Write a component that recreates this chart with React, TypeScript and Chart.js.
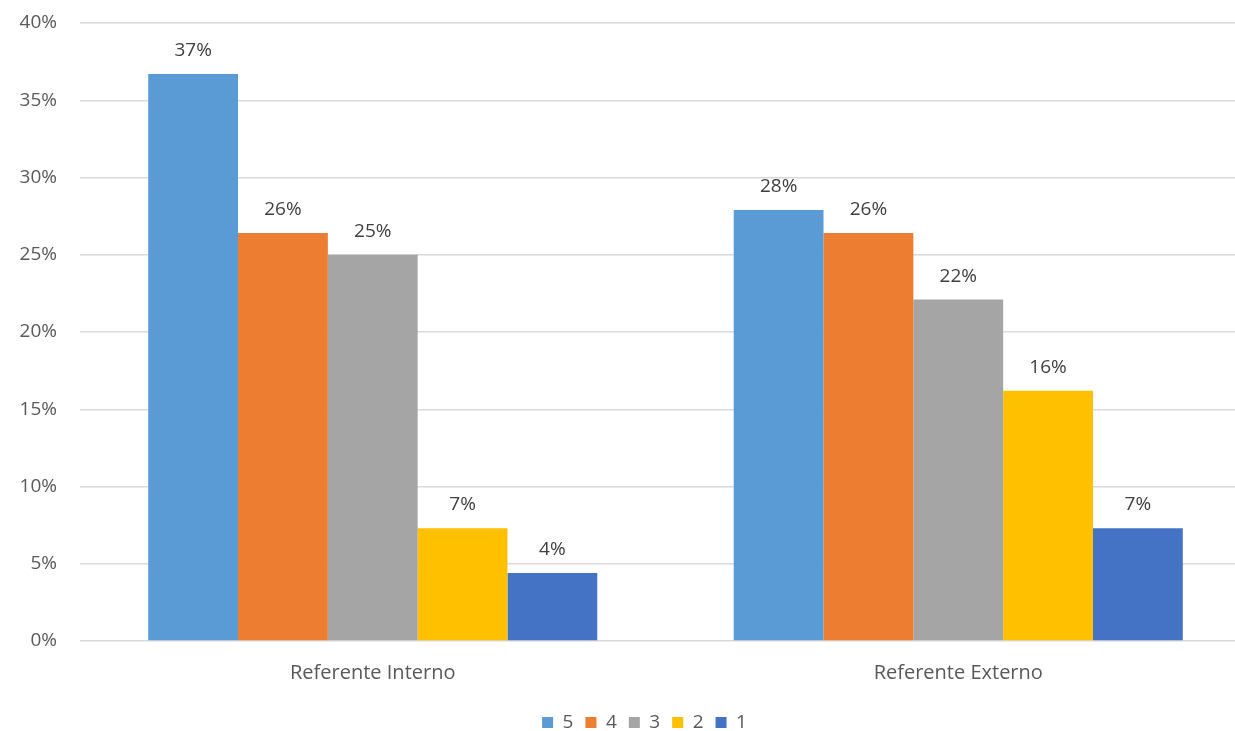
import React, { useEffect, useRef } from "react";
import { Chart, registerables } from "chart.js";

Chart.register(...registerables);

const categories = ["Referente Interno", "Referente Externo"];
const ratingLabels = ["5", "4", "3", "2", "1"];
const rating5 = [36.7, 27.9];
const rating4 = [26.4, 26.4];
const rating3 = [25.0, 22.1];
const rating2 = [7.3, 16.2];
const rating1 = [4.4, 7.3];
const ratingColors = ["#5B9BD5", "#ED7D31", "#A5A5A5", "#FFC000", "#4472C4"];
const yTicks = [0, 5, 10, 15, 20, 25, 30, 35, 40];

const FONT = "'Open Sans', 'Noto Sans', sans-serif";
const TEXT = "#595959";
const SIZE = 19;

// Writes the rounded percentage above each bar
const valueLabels = {
  id: "valueLabels",
  afterDatasetsDraw(chart: any) {
    const ctx = chart.ctx;
    ctx.save();
    ctx.font = `${SIZE}px ${FONT}`;
    ctx.fillStyle = "#404040";
    ctx.textAlign = "center";
    ctx.textBaseline = "alphabetic";
    chart.data.datasets.forEach((ds: any, i: number) => {
      const meta = chart.getDatasetMeta(i);
      meta.data.forEach((bar: any, j: number) => {
        const v = ds.data[j] as number;
        ctx.fillText(`${Math.round(v)}%`, bar.x, bar.y - 18);
      });
    });
    ctx.restore();
  },
};

// Nudges the legend row to the right of the canvas centre
const legendShift = {
  id: "legendShift",
  afterLayout(chart: any) {
    const lg = chart.legend;
    if (lg) {
      lg.left += 19;
      lg.right += 19;
    }
  },
};

export default function App() {
  const canvasRef = useRef<HTMLCanvasElement | null>(null);

  useEffect(() => {
    if (!canvasRef.current) return;
    const series = [rating5, rating4, rating3, rating2, rating1];
    const chart = new Chart(canvasRef.current, {
      type: "bar",
      data: {
        labels: categories,
        datasets: series.map((values, i) => ({
          label: ratingLabels[i],
          data: values,
          backgroundColor: ratingColors[i],
          borderWidth: 0,
          categoryPercentage: 0.767,
          barPercentage: 1,
        })),
      },
      options: {
        responsive: false,
        animation: false,
        layout: { padding: { top: 23, left: 0, right: 35, bottom: 8 } },
        scales: {
          x: {
            grid: { display: false, drawTicks: false },
            border: { display: false },
            ticks: {
              color: TEXT,
              font: { family: FONT, size: 20 },
              padding: 20,
            },
            afterFit(scale: any) {
              scale.height = 60;
            },
          },
          y: {
            min: 0,
            max: 40,
            afterBuildTicks(scale: any) {
              scale.ticks = yTicks.map((v) => ({ value: v }));
            },
            grid: { color: "#D9D9D9", lineWidth: 1.5, drawTicks: false },
            border: { display: false },
            ticks: {
              color: TEXT,
              font: { family: FONT, size: SIZE },
              padding: 23,
              callback: (v: any) => `${v}%`,
            },
            afterFit(scale: any) {
              scale.width = 80;
              scale.paddingTop = 0;
              scale.paddingBottom = 0;
            },
          },
        },
        plugins: {
          legend: {
            position: "bottom",
            labels: {
              boxWidth: 11,
              boxHeight: 11,
              padding: 12,
              color: TEXT,
              font: { family: FONT, size: SIZE },
            },
          },
          tooltip: { enabled: false },
        },
      },
      plugins: [valueLabels, legendShift],
    });
    return () => chart.destroy();
  }, []);

  return (
    <div
      style={{
        position: "fixed",
        left: 0,
        top: 0,
        width: 1235,
        height: 731,
        overflow: "hidden",
        background: "#fff",
      }}
    >
      <canvas ref={canvasRef} width={1286} height={750} />
    </div>
  );
}
